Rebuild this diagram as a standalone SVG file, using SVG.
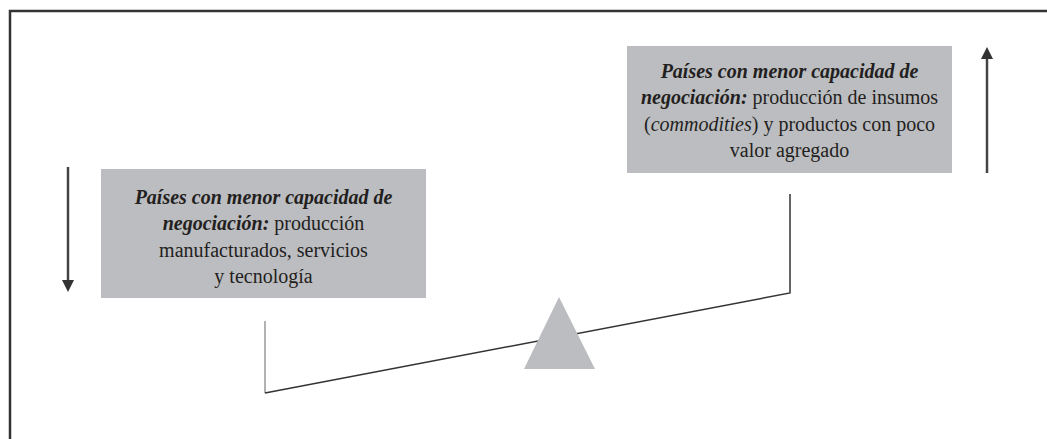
<svg xmlns="http://www.w3.org/2000/svg" width="1047" height="439" viewBox="0 0 1047 439">
<defs>
<style>
.box{fill:#bcbdc0}
.t{font-family:"Liberation Serif",serif;font-size:20px;fill:#231f20;text-anchor:middle}
.bi{font-weight:bold;font-style:italic}
.it{font-style:italic}
.ln{stroke:#333;stroke-width:1.5;fill:none}
.ar{stroke:#444;stroke-width:2.5;fill:none}
.hd{fill:#333}
</style>
</defs>
<rect width="1047" height="439" fill="#fff"/>
<path d="M10,439 L10,11 L1047,11" stroke="#333" stroke-width="2.5" fill="none"/>
<g id="connectors">
<line x1="68" y1="167" x2="68" y2="282" class="ar"/>
<polygon class="hd" points="62,280 74,280 68,292"/>
<line x1="987" y1="173" x2="987" y2="57" class="ar"/>
<polygon class="hd" points="981,59 993,59 987,47"/>
<line x1="265" y1="321" x2="265" y2="393" stroke="#999" stroke-width="1.5"/>
<path class="ln" d="M265,393 L790,293 L790,194"/>
</g>
<g id="left-box">
<rect class="box" x="101" y="169" width="325" height="129"/>
<text class="t" x="263.5" y="204"><tspan class="bi">Países con menor capacidad de</tspan></text>
<text class="t" x="263.5" y="230"><tspan class="bi">negociación:</tspan> producción</text>
<text class="t" x="263.5" y="257">manufacturados, servicios</text>
<text class="t" x="263.5" y="283">y tecnología</text>
</g>
<g id="right-box">
<rect class="box" x="627" y="46" width="325" height="127"/>
<text class="t" x="789.5" y="78"><tspan class="bi">Países con menor capacidad de</tspan></text>
<text class="t" x="789.5" y="104"><tspan class="bi">negociación:</tspan> producción de insumos</text>
<text class="t" x="789.5" y="131">(<tspan class="it">commodities</tspan>) y productos con poco</text>
<text class="t" x="789.5" y="157">valor agregado</text>
</g>
<g id="fulcrum">
<polygon class="box" points="559,297 595,369 524,369"/>
</g>
</svg>
